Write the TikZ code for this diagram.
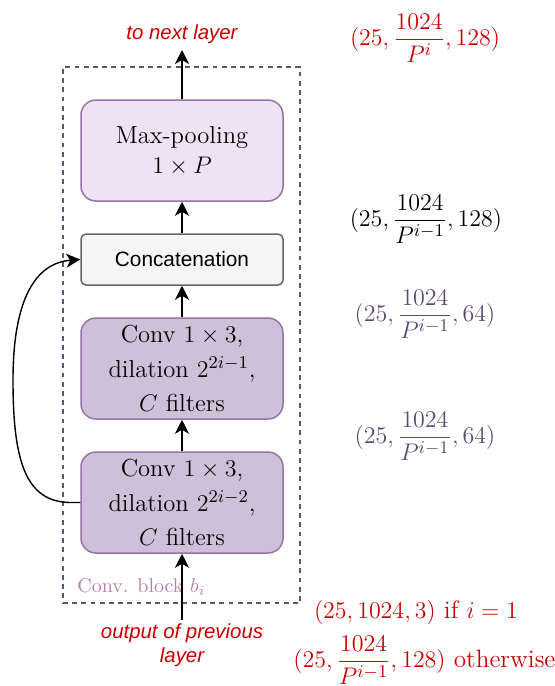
\documentclass[tikz,border=0pt]{standalone}
\usepackage{fontspec}
\usepackage{amsmath}
\newfontfamily\arialfont{Liberation Sans}
\usetikzlibrary{arrows.meta}
\definecolor{mpfill}{HTML}{EFE2F4}
\definecolor{convfill}{HTML}{CDC0D8}
\definecolor{pstroke}{HTML}{9673A6}
\definecolor{ccfill}{HTML}{F5F5F5}
\definecolor{ccstroke}{HTML}{666666}
\definecolor{dashcol}{HTML}{62527A}
\definecolor{redlab}{HTML}{CC0000}
\definecolor{purlab}{HTML}{5B4A74}
\definecolor{blklab}{HTML}{B87FAA}
\tikzset{
  pbox/.style={draw=pstroke, line width=0.75pt, rounded corners=7.5pt, align=center,
    minimum width=101pt, minimum height=50.5pt, inner sep=0pt,
    font=\fontsize{12.3}{15}\selectfont},
  convbox/.style={pbox, fill=convfill, font=\fontsize{12.3}{17.2}\selectfont},
  ccbox/.style={draw=ccstroke, fill=ccfill, line width=0.75pt, rounded corners=2.5pt,
    minimum width=101pt, minimum height=25.5pt, inner sep=0pt,
    font=\arialfont\fontsize{10.4}{12}\selectfont},
  dashbox/.style={draw=dashcol, line width=0.7pt, dash pattern=on 2.4pt off 2.2pt,
    minimum width=118.5pt, minimum height=268pt, inner sep=0pt},
  arr/.style={draw=black, line width=0.7pt, -{Stealth[length=7pt,width=7pt,inset=2pt]}},
  sanslab/.style={text=redlab, align=center, font=\arialfont\itshape\fontsize{10.2}{12}\selectfont},
  mathlab/.style={font=\fontsize{12.6}{14}\selectfont, inner sep=0pt}
}
\begin{document}
\begin{tikzpicture}[x=0.5pt,y=-0.5pt]
\useasboundingbox (0,0) rectangle (554,686);
% dashed conv block
\node[dashbox] (blk) at (181.5,335) {};
% boxes
\node[pbox, fill=mpfill] (mp) at (182,150.5) {Max-pooling\\$1\times P$};
\node[ccbox] (cc) at (182,259.5) {Concatenation};
\node[convbox] (c2) at (182,368.5) {Conv $1\times 3$,\\dilation $2^{2i-1}$,\\$C$ filters};
\node[convbox] (c1) at (182,502.5) {Conv $1\times 3$,\\dilation $2^{2i-2}$,\\$C$ filters};
% block label
\node[anchor=west, text=blklab, font=\fontsize{10}{12}\selectfont, inner sep=0pt] (blab) at (77,587) {Conv. block $b_i$};
% in/out
\coordinate (top) at (182,50);
\coordinate (bot) at (182,620);
\node[sanslab] (tnl) at (182,34) {to next layer};
\node[sanslab] (opl) at (182,645) {output of previous\\layer};
% arrows
\draw[arr] (mp.north) -- (top);
\draw[arr] (cc.north) -- (mp.south);
\draw[arr] (c2.north) -- (cc.south);
\draw[arr] (c1.north) -- (c2.south);
\draw[arr] (bot) -- (c1.south);
% skip connection
\draw[arr] (c1.west) -- ++(-10,0) .. controls (25,502) and (13,460) .. (13,380)
  .. controls (13,300) and (35,263) .. (cc.west);
% shape labels
\node[mathlab, text=redlab] (l1) at (425,38) {$(25,\dfrac{1024}{P^{i}},128)$};
\node[mathlab, text=black] (l2) at (426,219) {$(25,\dfrac{1024}{P^{i-1}},128)$};
\node[mathlab, text=purlab] (l3) at (425,314) {$(25,\dfrac{1024}{P^{i-1}},64)$};
\node[mathlab, text=purlab] (l4) at (425,436) {$(25,\dfrac{1024}{P^{i-1}},64)$};
\node[mathlab, text=redlab] (l5) at (416,612) {$(25,1024,3)$ if $i=1$};
\node[mathlab, text=redlab, anchor=west] (l6) at (293,660) {$(25,\dfrac{1024}{P^{i-1}},128)$ otherwise};
\end{tikzpicture}
\end{document}
